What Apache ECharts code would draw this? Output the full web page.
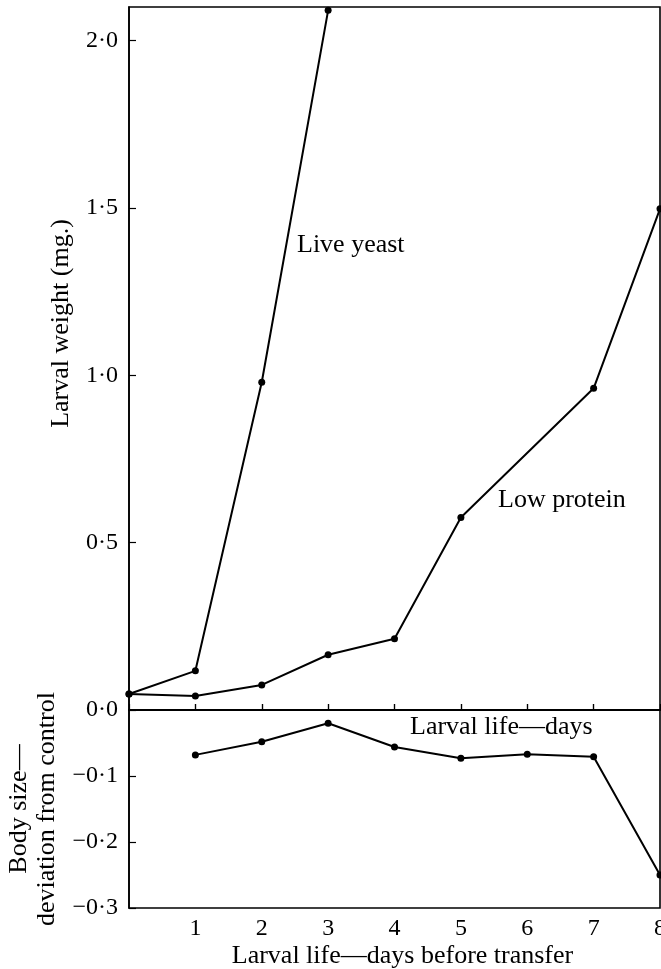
<!DOCTYPE html>
<html>
<head>
<meta charset="utf-8">
<script src="https://cdn.jsdelivr.net/npm/echarts@6/dist/echarts.min.js"></script>
<style>
  html, body { margin: 0; background: #fff; }
  #chart { width: 661px; height: 969px; }
</style>
</head>
<body>
<div id="chart"></div>
<script>
// data
const liveYeast = [[0, 0.048], [1, 0.117], [2, 0.979], [3, 2.09]];
const lowProtein = [[0, 0.048], [1, 0.042], [2, 0.075], [3, 0.165], [4, 0.213], [5, 0.575], [7, 0.961], [8, 1.497]];
const bodySize = [[1, -0.068], [2, -0.048], [3, -0.02], [4, -0.056], [5, -0.073], [6, -0.067], [7, -0.071], [8, -0.25]];
const dayTicks = [0, 1, 2, 3, 4, 5, 6, 7, 8];

const FONT = 'Liberation Serif';
const ink = '#000';

// 1·0 style labels with a middle dot
const fmt = v => {
  const s = Math.abs(v).toFixed(1).replace('.', '\u00b7');
  return v < -1e-9 ? '\u2212' + s : s;
};

const xBase = {
  type: 'value',
  min: dayTicks[0],
  max: dayTicks[dayTicks.length - 1],
  interval: 1,
  axisLine: { lineStyle: { color: ink, width: 1.6 } },
  axisTick: { inside: true, length: 6, lineStyle: { color: ink, width: 1.2 } },
  splitLine: { show: false }
};

const yBase = {
  type: 'value',
  axisLine: { show: true, lineStyle: { color: ink, width: 1.6 } },
  axisTick: { inside: true, length: 7, lineStyle: { color: ink, width: 1.2 } },
  splitLine: { show: false },
  axisLabel: { color: ink, fontFamily: FONT, fontSize: 24, margin: 11, formatter: fmt, showMaxLabel: false },
  nameLocation: 'middle',
  nameTextStyle: { color: ink, fontFamily: FONT, fontSize: 26 }
};

const lineStyle = { color: ink, width: 2 };
const labelFont = '26px "' + FONT + '"';

const chart = echarts.init(document.getElementById('chart'));
chart.setOption({
  animation: false,
  backgroundColor: '#fff',
  grid: [
    { left: 129, right: 1, top: 7, height: 703, outerBoundsMode: 'none', containLabel: false,
      show: true, borderColor: ink, borderWidth: 1.6 },
    { left: 129, right: 1, top: 710, height: 198, outerBoundsMode: 'none', containLabel: false,
      show: true, borderColor: ink, borderWidth: 1.6 }
  ],
  xAxis: [
    Object.assign({}, xBase, { gridIndex: 0, axisLabel: { show: false } }),
    Object.assign({}, xBase, {
      gridIndex: 1,
      axisLabel: { color: ink, fontFamily: FONT, fontSize: 24, margin: 9, showMinLabel: false },
      name: 'Larval life\u2014days before transfer',
      nameLocation: 'middle',
      nameGap: 35,
      nameTextStyle: { color: ink, fontFamily: FONT, fontSize: 26, padding: [0, 0, 0, 16] }
    })
  ],
  yAxis: [
    Object.assign({}, yBase, {
      gridIndex: 0, min: 0, max: 2.1, interval: 0.5,
      name: 'Larval weight (mg.)',
      nameGap: 55,
      nameTextStyle: Object.assign({}, yBase.nameTextStyle, { padding: [0, 0, 0, 70] })
    }),
    Object.assign({}, yBase, {
      gridIndex: 1, min: -0.3, max: 0, interval: 0.1,
      name: 'Body size\u2014\ndeviation from control',
      nameGap: 65,
      nameTextStyle: Object.assign({}, yBase.nameTextStyle, { lineHeight: 28 })
    })
  ],
  series: [
    { name: 'Live yeast', type: 'line', xAxisIndex: 0, yAxisIndex: 0, data: liveYeast,
      symbol: 'circle', symbolSize: 7, itemStyle: { color: ink }, lineStyle: lineStyle },
    { name: 'Low protein', type: 'line', xAxisIndex: 0, yAxisIndex: 0, data: lowProtein,
      symbol: 'circle', symbolSize: 7, itemStyle: { color: ink }, lineStyle: lineStyle },
    { name: 'Body size', type: 'line', xAxisIndex: 1, yAxisIndex: 1, data: bodySize,
      symbol: 'circle', symbolSize: 7, itemStyle: { color: ink }, lineStyle: lineStyle }
  ],
  // text labels placed inside the plot
  graphic: [
    { type: 'text', x: 297, y: 245, style: { text: 'Live yeast', font: labelFont, fill: ink, align: 'left', verticalAlign: 'middle' } },
    { type: 'text', x: 498, y: 500, style: { text: 'Low protein', font: labelFont, fill: ink, align: 'left', verticalAlign: 'middle' } },
    { type: 'text', x: 410, y: 727, style: { text: 'Larval life\u2014days', font: labelFont, fill: ink, align: 'left', verticalAlign: 'middle' } }
  ]
});
</script>
</body>
</html>
